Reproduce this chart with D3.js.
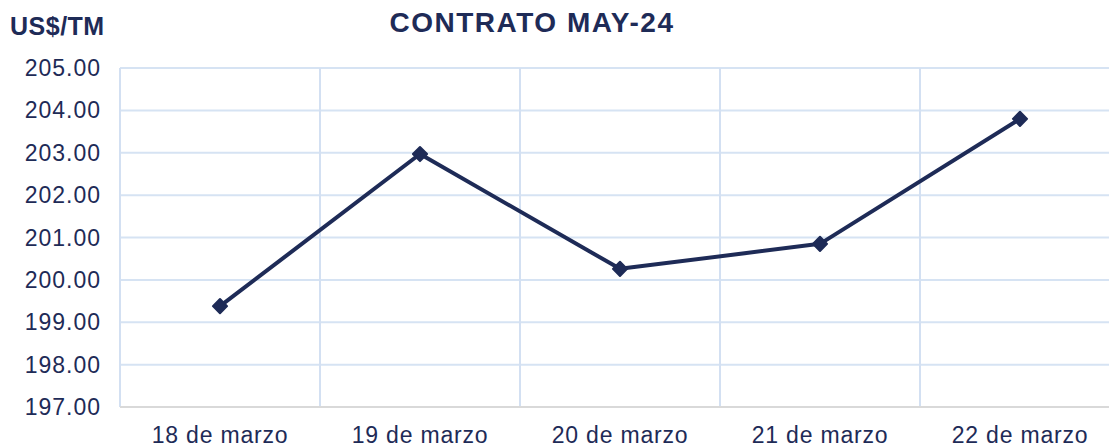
<!DOCTYPE html>
<html>
<head>
<meta charset="utf-8">
<script src="https://cdn.jsdelivr.net/npm/d3@7"></script>
<style>
  body { margin: 0; background: #fff; }
  svg { font-family: "Liberation Sans", Arial, sans-serif; }
</style>
</head>
<body>
<div id="chart"></div>
<script>
const categories = ["18 de marzo", "19 de marzo", "20 de marzo", "21 de marzo", "22 de marzo"];
const values = [199.38, 202.97, 200.26, 200.85, 203.80];
const yTicks = [197, 198, 199, 200, 201, 202, 203, 204, 205];

const WIDTH = 1109, HEIGHT = 447;
const INK = "#1e2b57";
const svg = d3.select("#chart").append("svg").attr("width", WIDTH).attr("height", HEIGHT);

const x = d3.scaleBand().domain(categories).range([120, 1120]);
const y = d3.scaleLinear().domain([197, 205]).range([407, 68]);

// horizontal gridlines
svg.append("g").selectAll("line").data(yTicks.filter(d => d !== 197)).join("line")
  .attr("x1", 120).attr("x2", WIDTH).attr("y1", d => y(d)).attr("y2", d => y(d))
  .attr("stroke", "#d6e3f3").attr("stroke-width", 2);

// vertical gridlines
const bounds = categories.map(c => x(c));
svg.append("g").selectAll("line").data(bounds).join("line")
  .attr("x1", d => d).attr("x2", d => d).attr("y1", y(205)).attr("y2", y(197))
  .attr("stroke", "#d3e0f2").attr("stroke-width", 2);

// bottom axis line
svg.append("line").attr("x1", 120).attr("x2", WIDTH).attr("y1", y(197)).attr("y2", y(197))
  .attr("stroke", "#d9d9d9").attr("stroke-width", 2);

// y labels
svg.append("g").selectAll("text").data(yTicks).join("text")
  .attr("x", 101).attr("y", d => y(d)).attr("dy", "0.35em")
  .attr("text-anchor", "end").attr("fill", INK)
  .style("font-size", "23px").style("letter-spacing", "1px")
  .text(d => d.toFixed(2));

// x labels
svg.append("g").selectAll("text").data(categories).join("text")
  .attr("x", d => x(d) + x.bandwidth() / 2).attr("y", 443)
  .attr("text-anchor", "middle").attr("fill", INK)
  .style("font-size", "23px").style("letter-spacing", "0.8px")
  .text(d => d);

// line
const line = d3.line().x((d, i) => x(categories[i]) + x.bandwidth() / 2).y(d => y(d));
svg.append("path").datum(values).attr("d", line)
  .attr("fill", "none").attr("stroke", INK).attr("stroke-width", 4).attr("stroke-linejoin", "round");

// diamond markers
svg.append("g").selectAll("path").data(values).join("path")
  .attr("d", d3.symbol(d3.symbolSquare, 100)())
  .attr("transform", (d, i) => `translate(${x(categories[i]) + x.bandwidth() / 2},${y(d)}) rotate(45)`)
  .attr("fill", INK).attr("stroke", INK).attr("stroke-width", 2).attr("stroke-linejoin", "round");

// title & unit
svg.append("text").attr("x", 532).attr("y", 32).attr("text-anchor", "middle")
  .attr("fill", INK).style("font-size", "28px").style("font-weight", "bold")
  .style("letter-spacing", "1.5px").text("CONTRATO MAY-24");
svg.append("text").attr("x", 10).attr("y", 35)
  .attr("fill", INK).style("font-size", "25px").style("font-weight", "bold")
  .style("letter-spacing", "0.5px").text("US$/TM");
</script>
</body>
</html>
